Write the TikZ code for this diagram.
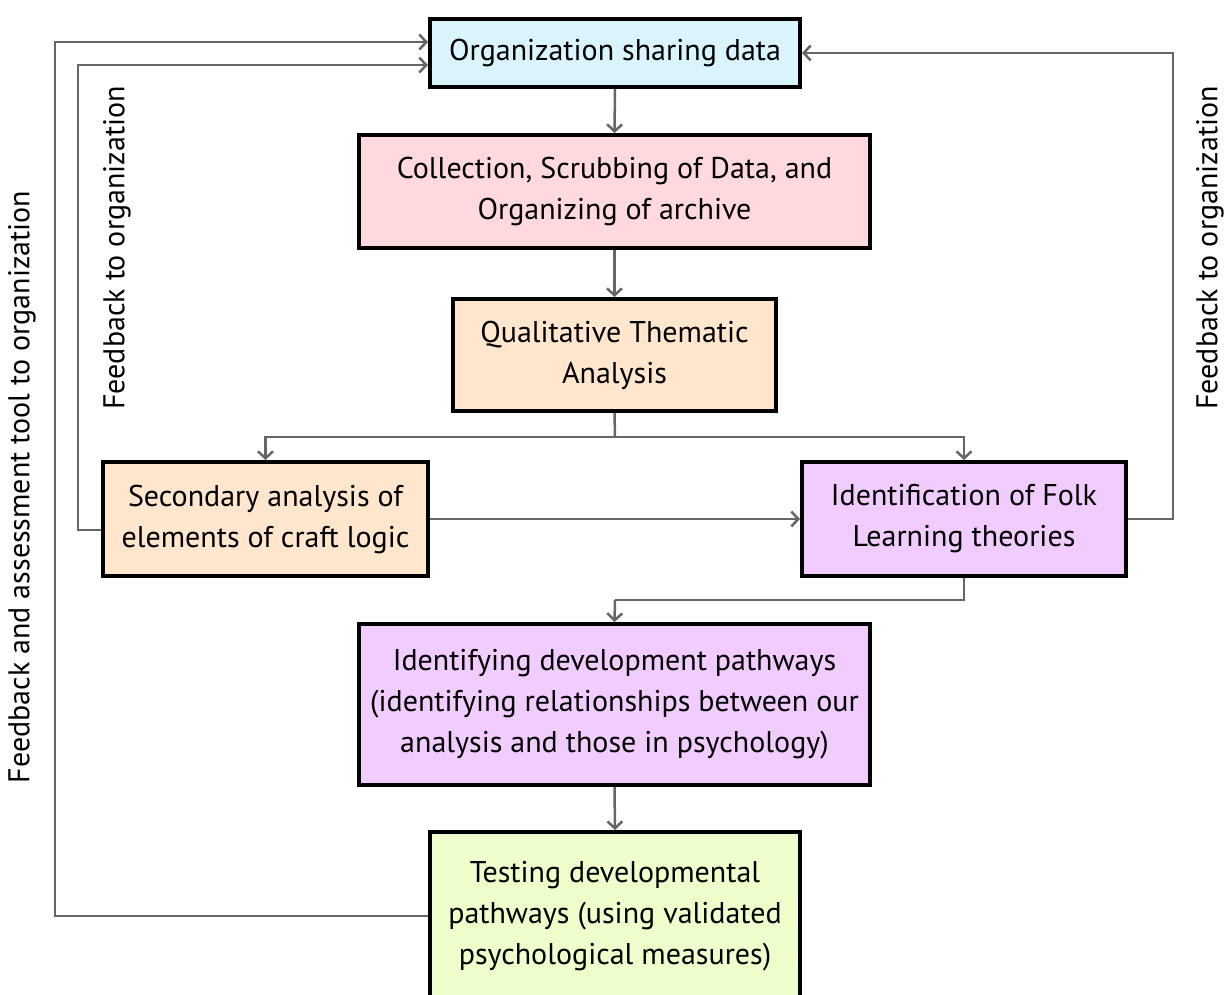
\documentclass[tikz,border=0pt]{standalone}
\usepackage{fontspec}
\setmainfont{PT Sans}
\usetikzlibrary{arrows.meta}
\definecolor{cblue}{RGB}{217,244,253}
\definecolor{cpink}{RGB}{255,217,222}
\definecolor{cpeach}{RGB}{255,230,204}
\definecolor{clav}{RGB}{240,204,255}
\definecolor{cgreen}{RGB}{238,255,204}
\definecolor{cline}{RGB}{102,102,102}
\tikzset{
  box/.style={draw=black, line width=4pt, rectangle, align=center, inner sep=0pt,
    font=\fontsize{30}{41}\selectfont},
  conn/.style={draw=cline, line width=2.5pt, -{Straight Barb[length=7pt,width=15pt,line width=2.5pt]}},
  plain/.style={draw=cline, line width=2.5pt},
  vlabel/.style={rotate=90, font=\fontsize{30}{36}\selectfont, inner sep=0pt}
}
\begin{document}
\begin{tikzpicture}[x=1pt,y=-1pt]
\useasboundingbox (0,0) rectangle (1227,994);
\node[box, fill=cblue, minimum width=370pt, minimum height=68pt] (org) at (615,53) {Organization sharing data};
\node[box, fill=cpink, minimum width=511pt, minimum height=113pt] (coll) at (614.5,191.5) {Collection, Scrubbing of Data, and\\Organizing of archive};
\node[box, fill=cpeach, minimum width=323pt, minimum height=112pt] (qual) at (614.5,355) {Qualitative Thematic\\Analysis};
\node[box, fill=cpeach, minimum width=325pt, minimum height=114pt] (sec) at (265.5,519) {Secondary analysis of\\elements of craft logic};
\node[box, fill=clav, minimum width=324pt, minimum height=114pt] (folk) at (964,519) {Identification of Folk\\Learning theories};
\node[box, fill=clav, minimum width=511pt, minimum height=161pt] (dev) at (614.5,704.5) {Identifying development pathways\\(identifying relationships between our\\analysis and those in psychology)};
\node[box, fill=cgreen, minimum width=370pt, minimum height=168pt] (test) at (615,916) {Testing developmental\\pathways (using validated\\psychological measures)};

\coordinate (split) at (615,437);
\coordinate (join) at (615,600);

\draw[conn] (org.south) -- (coll.north);
\draw[conn] (coll.south) -- (qual.north);
\draw[plain] (qual.south) -- (split);
\draw[conn] (split) -| (sec.north);
\draw[conn] (split) -| (folk.north);
\draw[conn] (sec.east) -- (folk.west);
\draw[plain] (folk.south) |- (join);
\draw[conn] (join) -- (dev.north);
\draw[conn] (dev.south) -- (test.north);

\draw[conn] ([yshift=-11pt]sec.west) -- ++(-23,0) |- ([yshift=-12pt]org.west);
\draw[conn] (test.west) -- ++(-373,0) |- ([yshift=11pt]org.west);
\draw[conn] (folk.east) -- ++(45,0) |- (org.east);

\node[vlabel] (lab1) at (22,487) {Feedback and assessment tool to organization};
\node[vlabel] (lab2) at (117,248) {Feedback to organization};
\node[vlabel] (lab3) at (1210,248) {Feedback to organization};
\end{tikzpicture}
\end{document}
